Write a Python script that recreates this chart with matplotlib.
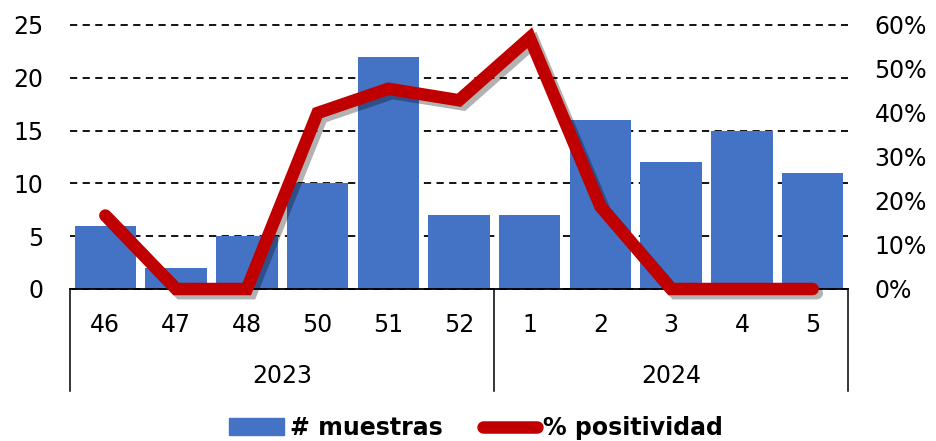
import numpy as np
import matplotlib.pyplot as plt
import matplotlib.patheffects as pe
from matplotlib.ticker import PercentFormatter
from matplotlib.lines import Line2D
from matplotlib.patches import Patch

plt.rcParams['font.family'] = ['DejaVu Sans']

# datos
semanas = ['46', '47', '48', '50', '51', '52', '1', '2', '3', '4', '5']
anios = ['2023', '2024']
semanas_por_anio = [6, 5]
muestras = [6, 2, 5, 10, 22, 7, 7, 16, 12, 15, 11]
positividad = [0.167, 0.0, 0.0, 0.40, 0.455, 0.429, 0.571, 0.1875, 0.0, 0.0, 0.0]

azul = '#4472C4'
rojo = '#C00000'

fig = plt.figure(figsize=(9.37, 4.41), dpi=100)
ax = fig.add_axes([70 / 937, 1 - 289 / 441, 778 / 937, 264 / 441])
x = np.arange(len(semanas))

ax.bar(x, muestras, width=0.87, color=azul, zorder=2)
ax.set_xlim(-0.5, len(semanas) - 0.5)
ax.set_ylim(0, 25)
ax.set_yticks(range(0, 26, 5))
ax.yaxis.grid(True, linestyle=(0, (4, 3)), color='black', linewidth=1.3)
for gl in ax.get_ygridlines():
    gl.set_clip_on(False)
ax.set_axisbelow(True)
for s in ['left', 'right', 'top']:
    ax.spines[s].set_visible(False)
ax.spines['bottom'].set_linewidth(1.3)
ax.tick_params(axis='y', length=0, labelsize=17, pad=19)
ax.set_xticks(x)
ax.set_xticklabels(semanas)
ax.tick_params(axis='x', length=0, labelsize=17, pad=17)

# separadores de años y etiquetas
trans = ax.get_xaxis_transform()
bordes = np.concatenate([[0], np.cumsum(semanas_por_anio)]) - 0.5
for b in bordes:
    ax.plot([b, b], [0, -0.385], transform=trans, color='black', lw=1.1, clip_on=False)
for i, a in enumerate(anios):
    centro = (bordes[i] + bordes[i + 1]) / 2
    ax.text(centro, -0.33, a, transform=trans, ha='center', va='center', fontsize=17)

ax2 = ax.twinx()
ax2.plot(x, positividad, color=rojo, lw=9, solid_capstyle='round', solid_joinstyle='miter',
         clip_on=False, zorder=3,
         path_effects=[pe.SimpleLineShadow(offset=(3, -3), alpha=0.3, shadow_color='black'), pe.Normal()])
ax2.set_ylim(0, 0.6)
ax2.set_yticks(np.arange(0, 0.61, 0.1))
ax2.yaxis.set_major_formatter(PercentFormatter(1.0, decimals=0))
ax2.tick_params(axis='y', length=0, labelsize=17, pad=19)
for s in ['left', 'right', 'top', 'bottom']:
    ax2.spines[s].set_visible(False)

handles = [Patch(color=azul), Line2D([0], [0], color=rojo, lw=9, solid_capstyle='round')]
fig.legend(handles, ['# muestras', '% positividad'], loc='center', bbox_to_anchor=(0.508, 1 - 428 / 441),
           ncol=2, frameon=False, prop={'weight': 'bold', 'size': 17}, handlelength=2.3,
           handletextpad=0.25, columnspacing=1.7)

fig.savefig('out.png', dpi=100)
